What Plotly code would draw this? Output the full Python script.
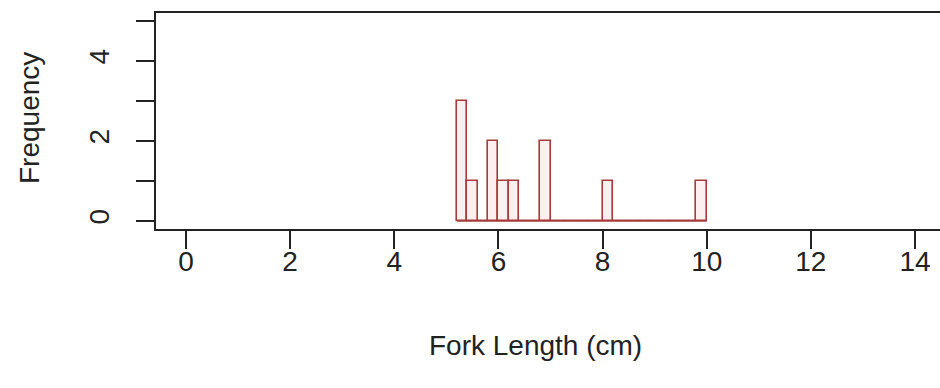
import plotly.graph_objects as go

# Histogram of fork lengths: 0.2 cm bins from 5.2 to 10.0 cm
bin_starts = [5.2, 5.4, 5.6, 5.8, 6.0, 6.2, 6.4, 6.6, 6.8, 7.0, 7.2, 7.4,
              7.6, 7.8, 8.0, 8.2, 8.4, 8.6, 8.8, 9.0, 9.2, 9.4, 9.6, 9.8]
counts = [3, 1, 0, 2, 1, 1, 0, 0, 2, 0, 0, 0,
          0, 0, 1, 0, 0, 0, 0, 0, 0, 0, 0, 1]
bin_width = 0.2

x_ticks = [0, 2, 4, 6, 8, 10, 12, 14]
y_ticks = [0, 1, 2, 3, 4, 5]
y_tick_text = ["0", "", "2", "", "4", ""]

FONT = "Liberation Sans, Arial, sans-serif"
FS = 28
INK = "#222222"
BAR_LINE = "#a83a3a"
BAR_FILL = "rgba(250,225,225,0.55)"

W, H = 940, 388
L, R, T, B = 156, 0, 13, 159

fig = go.Figure()

centres = [s + bin_width / 2 for s in bin_starts]
fig.add_trace(go.Bar(
    x=centres, y=counts, width=bin_width,
    marker=dict(color=BAR_FILL, line=dict(color=BAR_LINE, width=1.6)),
    hoverinfo="x+y", showlegend=False,
))

# empty bins are drawn as a flat outline along zero
fig.add_trace(go.Scatter(
    x=[bin_starts[0], bin_starts[-1] + bin_width], y=[0, 0],
    mode="lines", line=dict(color=BAR_LINE, width=1.6),
    hoverinfo="skip", showlegend=False,
))

fig.update_layout(
    width=W, height=H,
    margin=dict(l=L, r=R, t=T, b=B, pad=0),
    paper_bgcolor="white", plot_bgcolor="white",
    font=dict(family=FONT, size=FS, color=INK),
    bargap=0,
    xaxis=dict(
        range=[-0.576, 14.48], tickvals=x_ticks,
        ticks="outside", ticklen=18, tickwidth=1.6, tickcolor=INK,
        showline=True, linecolor=INK, linewidth=1.8, mirror=True,
        showgrid=False, zeroline=False,
        tickfont=dict(family=FONT, size=FS, color=INK),
        ticklabelstandoff=-12,
    ),
    yaxis=dict(
        range=[-0.2, 5.2], tickvals=y_ticks, ticktext=y_tick_text,
        ticks="outside", ticklen=18, tickwidth=1.6, tickcolor=INK,
        showline=True, linecolor=INK, linewidth=1.8, mirror=False,
        showgrid=False, zeroline=False, tickangle=-90,
        tickfont=dict(family=FONT, size=FS, color=INK),
        ticklabelstandoff=16,
    ),
    annotations=[
        dict(text="Fork Length (cm)", xref="paper", yref="paper",
             x=(535 - L) / (W - L - R), y=-(345 - (H - B)) / (H - T - B),
             xanchor="center", yanchor="middle", showarrow=False,
             font=dict(family=FONT, size=FS, color=INK)),
        dict(text="Frequency", xref="paper", yref="paper",
             x=-(L - 29) / (W - L - R), y=1 - (118 - T) / (H - T - B),
             xanchor="center", yanchor="middle", showarrow=False,
             textangle=-90,
             font=dict(family=FONT, size=FS, color=INK)),
    ],
)

fig.write_html("out.html")
